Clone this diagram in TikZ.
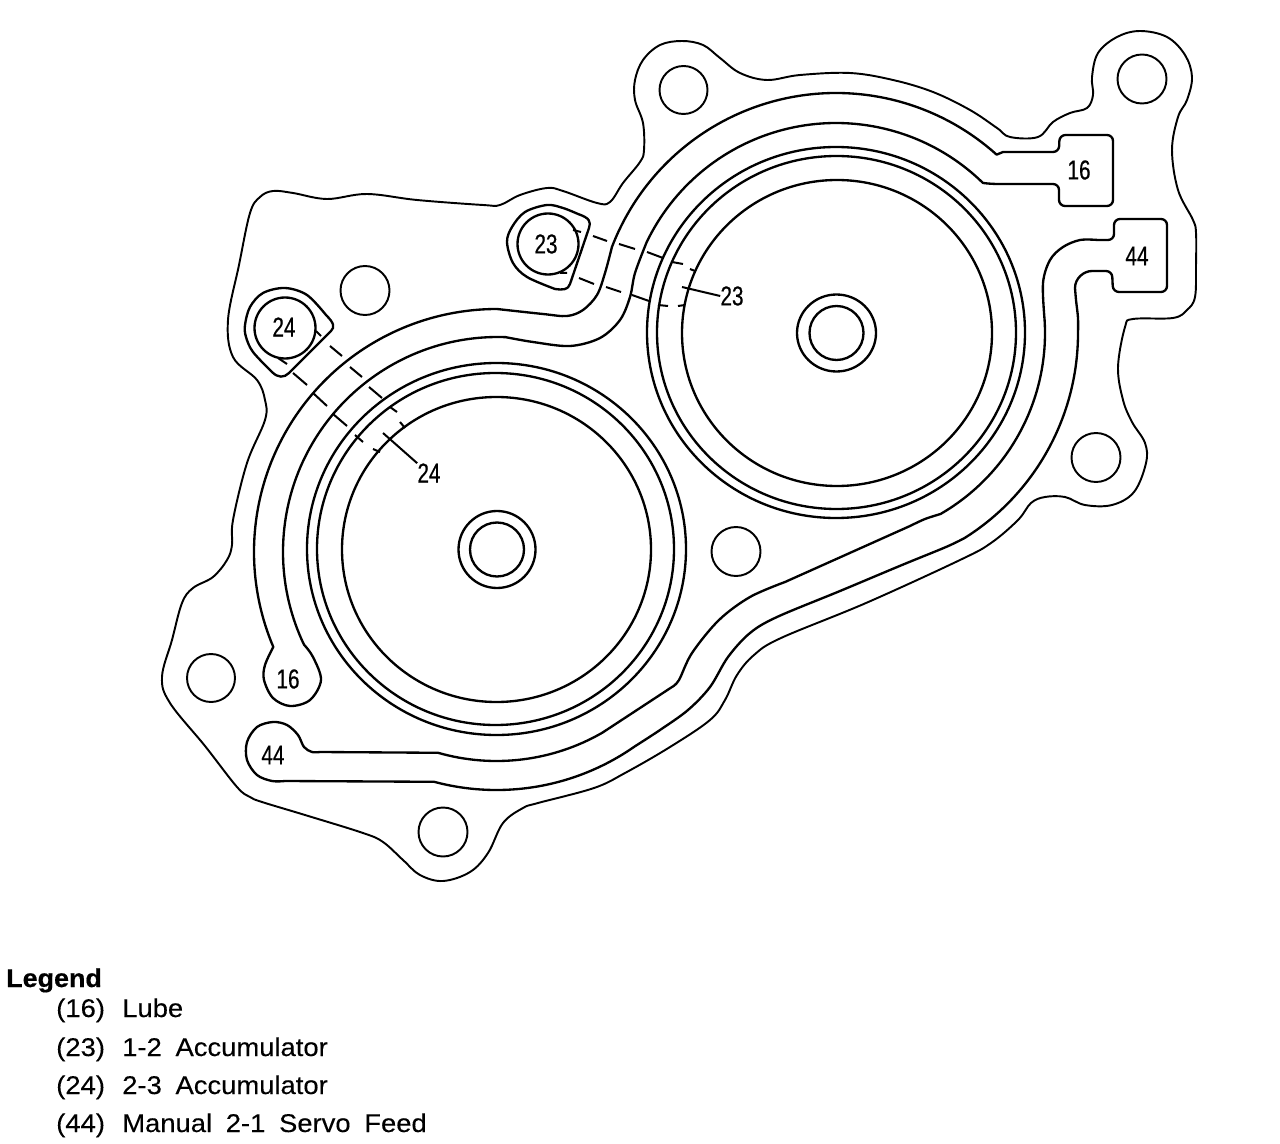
\documentclass[tikz,border=0pt]{standalone}
\usepackage{graphicx}
\usepackage{fontspec}
\setmainfont{Liberation Sans}
\newfontfamily\numfont[FakeBold=0.5]{Liberation Sans}
\newfontfamily\legfont[FakeBold=0.2]{Liberation Sans}
\newfontfamily\headfont[FakeBold=0.5]{Liberation Sans Bold}
\newcommand{\lgd}[1]{\scalebox{1.07}[1]{\spaceskip=.5em\relax #1}}
\newcommand{\numtxt}[1]{\scalebox{.76}[1]{#1}}
\tikzset{
  ln/.style={draw=black,line width=1.75pt,line join=round},
  thin ln/.style={draw=black,line width=1.45pt,line join=round},
  dsh/.style={draw=black,line width=1.5pt},
  num/.style={font=\fontsize{20.5pt}{22pt}\numfont,inner sep=0pt},
  leg/.style={font=\fontsize{19.2pt}{21pt}\legfont,inner sep=0pt,anchor=base west},
  sm/.style={smooth,tension=.55},
}
\begin{document}
\begin{tikzpicture}[x=0.75pt,y=-0.75pt]
\useasboundingbox (0,0) rectangle (1280,1144);
\coordinate (R) at (836,333);
\coordinate (LA) at (497,552);
\coordinate (LB) at (498,552);
\coordinate (LC) at (496.5,549);
% outer gasket contour
\draw[thin ln] plot[smooth cycle,tension=.6] coordinates {
(250,213)(260,197)(273,191)(293,193)(327,199)(367,194)(417,200)(483,205)(500,205)(520,195)(547,188)(563,191)(597,203)(610,202)(623,183)(640,162)(644,150)(643,123)(635,100)(635,80)(643,60)(660,45)(682,41)(703,45)(720,58)(740,73)(767,80)(800,75)(850,73)(893,80)(933,92)(970,110)(997,128)(1010,137)(1038,137)(1053,122)(1070,113)(1087,108)(1093,95)(1092,77)(1098,53)(1117,37)(1140,31)(1167,37)(1185,55)(1192,77)(1187,100)(1178,117)(1172,150)(1178,190)(1193,220)(1196,233)(1196,265)(1195,297)(1187,310)(1173,318)(1133,319)(1125,327)(1118,367)(1123,400)(1132,422)(1145,443)(1146,463)(1134,492)(1112,505)(1085,505)(1065,497)(1045,497)(1031,503)(1018,520)(991,543)(960,560)(866,603)(781,638)(754,655)(737,675)(725,700)(710,720)(670,747)(625,773)(594,788)(538,803)(523,808)(503,823)(488,853)(470,872)(443,881)(420,875)(403,860)(383,842)(363,833)(305,815)(262,802)(250,797)(237,787)(205,746)(170,703)(162,677)(172,640)(182,603)(193,588)(213,577)(227,560)(232,545)(233,520)(247,463)(265,420)(265,400)(257,380)(233,357)(228,320)(239,265)};
% channel 16
\draw[ln] (1015,152) [rounded corners=4.5pt] -- (1059,152) -- (1059.5,135) -- (1113,135) -- (1113,206) -- (1059,206) -- (1059,184) -- (992,184) [sharp corners]
  -- ([shift={(R)}]314.4:210) arc[start angle=314.4,end angle=205.5,radius=210]
  -- plot[sm] coordinates {([shift={(R)}]205.5:210) (635,273)(630,297)(620,320)(600,338)(570,346)(533,342)([shift={(LB)}]272:215)}
  -- ([shift={(LB)}]272:215) arc[start angle=272,end angle=154.5,radius=215]
  -- plot[sm] coordinates {([shift={(LB)}]154.5:215)(313,657)(321,680)(310,700)(290,706)(273,698)(264,680)(265,665)([shift={(LA)}]157:243)}
  -- ([shift={(LA)}]157:243) arc[start angle=157,end angle=270,radius=243]
  -- plot[sm] coordinates {([shift={(LA)}]270:243)(543,314)(567,316)(583,310)(597,295)(605,273)([shift={(R)}]201:240)}
  -- ([shift={(R)}]201:240) arc[start angle=201,end angle=312,radius=240]
  -- (1003,152) -- cycle;
% channel 44
\draw[ln] (1098,240) [rounded corners=4.5pt] -- (1114,240) -- (1114,219) -- (1167,219) -- (1167,292) -- (1113,292) -- (1112,271) -- (1097,271) [sharp corners]
  -- (1092,271)
  .. controls (1084,271) and (1075,278) .. (1075,288)
  -- plot[sm] coordinates {(1075,288)(1076,300)(1078,318)([shift={(R)}]0:242)}
  -- ([shift={(R)}]0:242) arc[start angle=0,end angle=58,radius=242]
  -- plot[sm] coordinates {([shift={(R)}]58:242)(946,547)(902,565)(840,591)(777,617)(750,633)(728,657)(710,687)(688,710)(660,730)([shift={(LC)}]55:241)}
  -- ([shift={(LC)}]55:241) arc[start angle=55,end angle=105,radius=241]
  -- (285,781)
  -- plot[sm] coordinates {(285,781)(272,781)(257,775)(247,760)(247,742)(257,727)(273,722)(287,725)(298,735)(304,747)(312,752)(320,752)}
  -- ([shift={(LC)}]106:212) arc[start angle=106,end angle=60,radius=212]
  -- (672,687)
  -- plot[sm] coordinates {(672,687)(679,680)(692,653)(719,620)(750,597)(785,582)}
  -- (910,526)
  -- plot[sm] coordinates {(910,526)(925,519)([shift={(R)}]60:209)}
  -- ([shift={(R)}]60:209) arc[start angle=60,end angle=-3.6,radius=209]
  -- plot[sm] coordinates {([shift={(R)}]-3.6:209)(1043,283)(1050,260)(1063,247)(1080,240)(1098,240)} -- cycle;
% big bores
\draw[ln] (836,332.5) ellipse [x radius=189,y radius=185.5];
\draw[ln] (836.5,332.5) ellipse [x radius=179.5,y radius=176.5];
\draw[ln] (837,333) ellipse [x radius=155,y radius=153];
\draw[ln] (836.5,333) ellipse [x radius=39.5,y radius=38.5];
\draw[ln] (836.5,333) circle [radius=27];
\draw[ln] (496.5,549) ellipse [x radius=189.5,y radius=186];
\draw[ln] (495.5,549) ellipse [x radius=178.5,y radius=176];
\draw[ln] (496.5,549.5) ellipse [x radius=154.5,y radius=152.5];
\draw[ln] (497,549.5) circle [radius=38.5];
\draw[ln] (497,549.5) circle [radius=27];
% bolt holes
\draw[thin ln] (683.5,90) circle [radius=24];
\draw[thin ln] (1142,79) circle [radius=24.5];
\draw[thin ln] (1096,457.5) circle [radius=24.5];
\draw[thin ln] (736,551.5) circle [radius=24.5];
\draw[thin ln] (211,678) circle [radius=24];
\draw[thin ln] (443,832) circle [radius=24.5];
\draw[thin ln] (365,290.5) circle [radius=24.5];
% ports
\draw[ln] (285,328) circle [radius=30.5];
\draw[ln] plot[sm] coordinates {(272,372)(253,352)(246,337)(245,325)(250,307)(263,293)(285,288)(307,295)(326,315)} .. controls (334,323) and (335,327) .. (331,331) -- (289,373) .. controls (284,378) and (278,378) .. (272,372);
\draw[ln] (548,244) circle [radius=30.5];
\draw[ln] plot[sm] coordinates {(555,289)(527,277)(513,263)(507,242)(512,227)(525,212)(547,205)(563,208)(578,214)} .. controls (590,218) and (591,222) .. (589,228) -- (570,284) .. controls (568,290) and (563,290) .. (555,289);
% dashed passage 24
\draw[dsh] (316,331)--(321,336) (330,346)--(342,356) (350,367)--(362,377) (369,387)--(382,398) (390,407)--(397,412) (400,422)--(405,428);
\draw[dsh] (278,358)--(287,364) (293,373)--(307,385) (313,393)--(327,406) (333,414)--(347,426) (355,435)--(363,442) (373,449)--(380,452);
% dashed passage 23
\draw[dsh] (573,230)--(581,232) (593,236)--(607,241) (619,244)--(635,249) (647,252)--(663,258) (672,262)--(683,264) (690,269)--(695,271);
\draw[dsh] (560,273)--(567,273) (579,278)--(594,284) (606,287)--(621,292) (632,295)--(649,301) (658,305)--(668,306) (678,306)--(685,305);
% labels
\node[num] (n16a) at (1079,170) {\numtxt{16}};
\node[num] (n44a) at (1137,256) {\numtxt{44}};
\node[num] (n23a) at (546,244) {\numtxt{23}};
\node[num] (n24a) at (284,327) {\numtxt{24}};
\node[num] (n16b) at (288,679) {\numtxt{16}};
\node[num] (n44b) at (273,755) {\numtxt{44}};
\node[num] (n23b) at (732,296) {\numtxt{23}};
\node[num] (n24b) at (429,473) {\numtxt{24}};
\coordinate (l23) at (682,287);
\coordinate (l24) at (383,433);
\draw[dsh] (l23) -- (n23b.west);
\draw[dsh] (l24) -- (n24b.north west);
% legend
\node[leg,font=\fontsize{19.2pt}{21pt}\headfont] (lg) at (6,987) {\scalebox{1.05}[1]{Legend}};
\node[leg] (a1) at (56,1017) {\lgd{(16)}};
\node[leg] (b1) at (122,1017) {\lgd{Lube}};
\node[leg] (a2) at (56,1056) {\lgd{(23)}};
\node[leg] (b2) at (122,1056) {\lgd{1-2 Accumulator}};
\node[leg] (a3) at (56,1094) {\lgd{(24)}};
\node[leg] (b3) at (122,1094) {\lgd{2-3 Accumulator}};
\node[leg] (a4) at (56,1132) {\lgd{(44)}};
\node[leg] (b4) at (122,1132) {\lgd{Manual 2-1 Servo Feed}};
\end{tikzpicture}
\end{document}
